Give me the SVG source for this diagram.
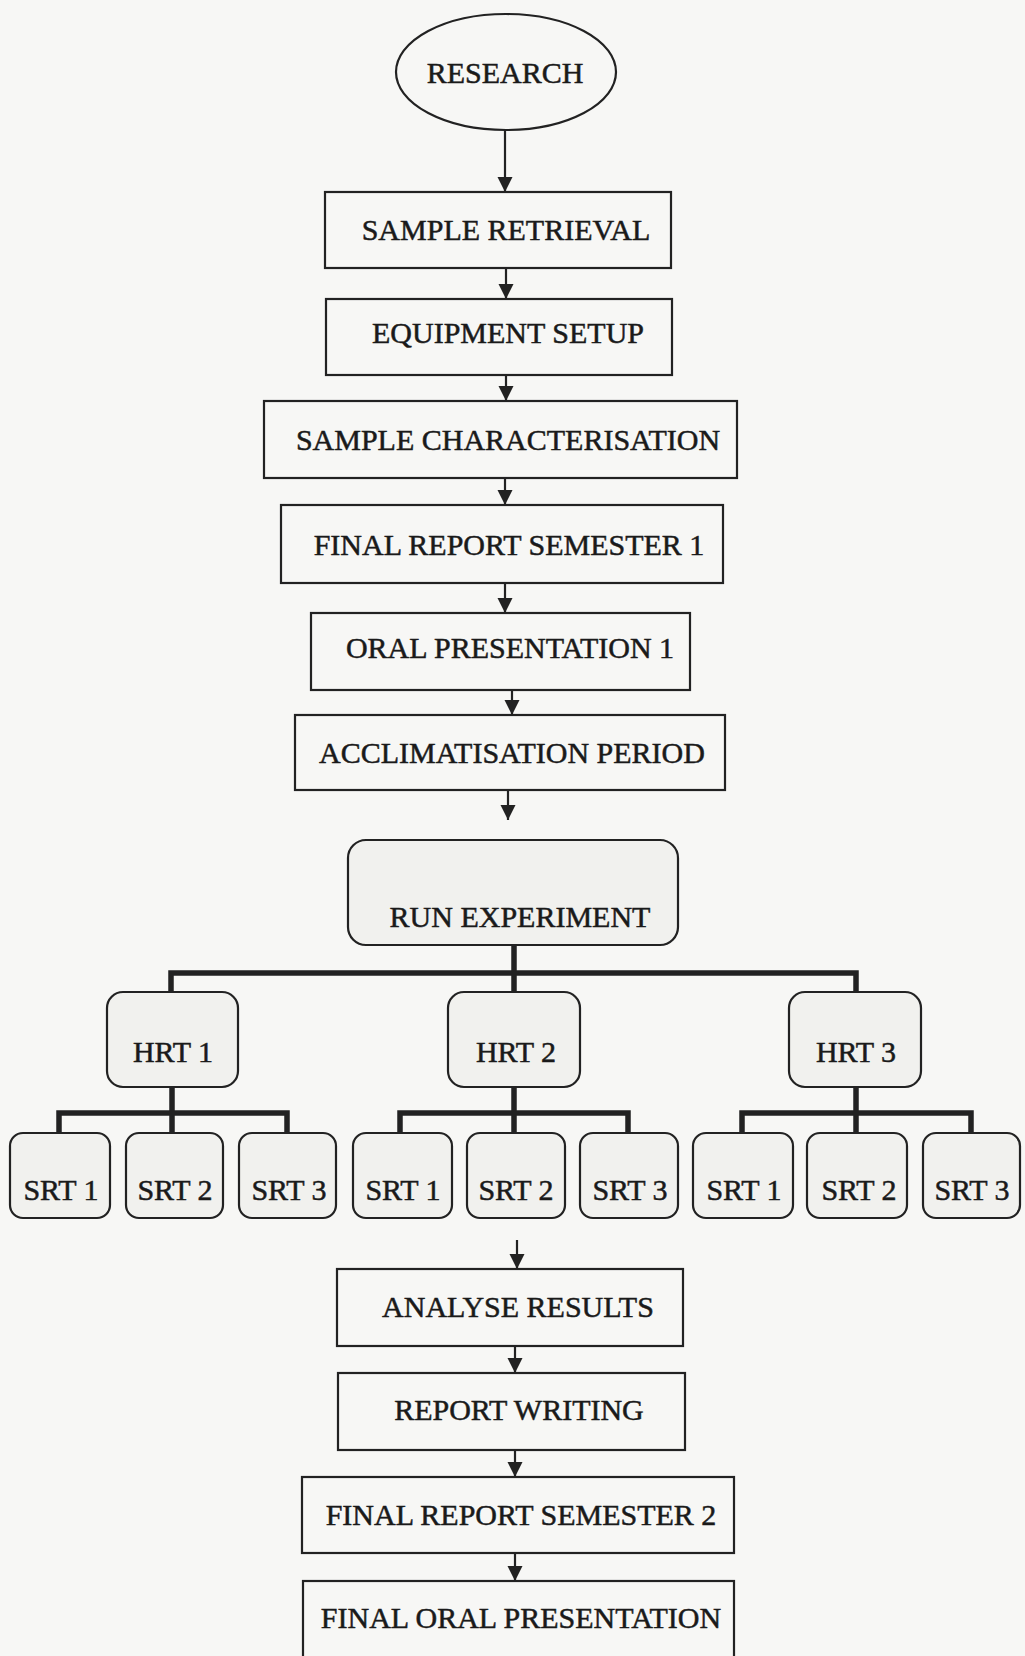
<svg xmlns="http://www.w3.org/2000/svg" width="1025" height="1656" viewBox="0 0 1025 1656">
<style>
.bx{fill:#f7f7f5;stroke:#222;stroke-width:2.2}
.rb{fill:#f1f1ee;stroke:#222;stroke-width:2.2}
.t{font-family:"Liberation Serif","Times New Roman",serif;font-size:30px;fill:#1a1a1a;stroke:#1a1a1a;stroke-width:0.5;text-anchor:middle}
.ar{stroke:#222;stroke-width:2.2;fill:none;marker-end:url(#ah)}
.tr{stroke:#222;stroke-width:5.5;fill:none;stroke-linecap:square}
</style>
<defs>
<marker id="ah" viewBox="0 0 10 10" refX="10" refY="5" markerWidth="7" markerHeight="7" orient="auto">
<path d="M0,0 L10,5 L0,10 z" fill="#222"/>
</marker>
</defs>
<rect x="0" y="0" width="1025" height="1656" fill="#f7f7f5"/>
<g id="connectors">
<line class="ar" x1="505" y1="129" x2="505" y2="192"/>
<line class="ar" x1="506" y1="268" x2="506" y2="299"/>
<line class="ar" x1="506" y1="375" x2="506" y2="401"/>
<line class="ar" x1="505" y1="478" x2="505" y2="505"/>
<line class="ar" x1="505" y1="583" x2="505" y2="613"/>
<line class="ar" x1="512" y1="690" x2="512" y2="715"/>
<line class="ar" x1="508" y1="790" x2="508" y2="820"/>
<line class="ar" x1="517" y1="1240" x2="517" y2="1269"/>
<line class="ar" x1="515" y1="1346" x2="515" y2="1373"/>
<line class="ar" x1="515" y1="1450" x2="515" y2="1477"/>
<line class="ar" x1="515" y1="1553" x2="515" y2="1581"/>
<path class="tr" d="M514,946 V991 M171,991 V973 H856 V991"/>
<path class="tr" d="M172,1088 V1132 M59,1132 V1113 H287 V1132"/>
<path class="tr" d="M514,1088 V1132 M400,1132 V1113 H628 V1132"/>
<path class="tr" d="M856,1088 V1132 M742,1132 V1113 H971 V1132"/>
</g>
<g id="research"><ellipse class="bx" cx="506" cy="72" rx="110" ry="58"/><text class="t" x="505" y="83">RESEARCH</text></g>
<g id="sample-retrieval"><rect class="bx" x="325" y="192" width="346" height="76"/><text class="t" x="506" y="240">SAMPLE RETRIEVAL</text></g>
<g id="equipment-setup"><rect class="bx" x="326" y="299" width="346" height="76"/><text class="t" x="508" y="343">EQUIPMENT SETUP</text></g>
<g id="sample-characterisation"><rect class="bx" x="264" y="401" width="473" height="77"/><text class="t" x="508" y="450">SAMPLE CHARACTERISATION</text></g>
<g id="final-report-1"><rect class="bx" x="281" y="505" width="442" height="78"/><text class="t" x="509" y="555">FINAL REPORT SEMESTER 1</text></g>
<g id="oral-presentation-1"><rect class="bx" x="311" y="613" width="379" height="77"/><text class="t" x="510" y="658">ORAL PRESENTATION 1</text></g>
<g id="acclimatisation"><rect class="bx" x="295" y="715" width="430" height="75"/><text class="t" x="512" y="763">ACCLIMATISATION PERIOD</text></g>
<g id="run-experiment"><rect class="rb" x="348" y="840" width="330" height="105" rx="18"/><text class="t" x="520" y="927">RUN EXPERIMENT</text></g>
<g id="hrt1"><rect class="rb" x="107" y="992" width="131" height="95" rx="16"/><text class="t" x="173" y="1062">HRT 1</text></g>
<g id="hrt2"><rect class="rb" x="448" y="992" width="132" height="95" rx="16"/><text class="t" x="516" y="1062">HRT 2</text></g>
<g id="hrt3"><rect class="rb" x="789" y="992" width="132" height="95" rx="16"/><text class="t" x="856" y="1062">HRT 3</text></g>
<g id="h1-srt1"><rect class="rb" x="10" y="1133" width="100" height="85" rx="13"/><text class="t" x="61" y="1200">SRT 1</text></g>
<g id="h1-srt2"><rect class="rb" x="126" y="1133" width="97" height="85" rx="13"/><text class="t" x="175" y="1200">SRT 2</text></g>
<g id="h1-srt3"><rect class="rb" x="239" y="1133" width="97" height="85" rx="13"/><text class="t" x="289" y="1200">SRT 3</text></g>
<g id="h2-srt1"><rect class="rb" x="353" y="1133" width="99" height="85" rx="13"/><text class="t" x="403" y="1200">SRT 1</text></g>
<g id="h2-srt2"><rect class="rb" x="467" y="1133" width="98" height="85" rx="13"/><text class="t" x="516" y="1200">SRT 2</text></g>
<g id="h2-srt3"><rect class="rb" x="580" y="1133" width="98" height="85" rx="13"/><text class="t" x="630" y="1200">SRT 3</text></g>
<g id="h3-srt1"><rect class="rb" x="693" y="1133" width="100" height="85" rx="13"/><text class="t" x="744" y="1200">SRT 1</text></g>
<g id="h3-srt2"><rect class="rb" x="807" y="1133" width="100" height="85" rx="13"/><text class="t" x="859" y="1200">SRT 2</text></g>
<g id="h3-srt3"><rect class="rb" x="923" y="1133" width="97" height="85" rx="13"/><text class="t" x="972" y="1200">SRT 3</text></g>
<g id="analyse-results"><rect class="bx" x="337" y="1269" width="346" height="77"/><text class="t" x="518" y="1317">ANALYSE RESULTS</text></g>
<g id="report-writing"><rect class="bx" x="338" y="1373" width="347" height="77"/><text class="t" x="519" y="1420">REPORT WRITING</text></g>
<g id="final-report-2"><rect class="bx" x="302" y="1477" width="432" height="76"/><text class="t" x="521" y="1525">FINAL REPORT SEMESTER 2</text></g>
<g id="final-oral"><rect class="bx" x="303" y="1581" width="431" height="85"/><text class="t" x="521" y="1628">FINAL ORAL PRESENTATION</text></g>
</svg>
